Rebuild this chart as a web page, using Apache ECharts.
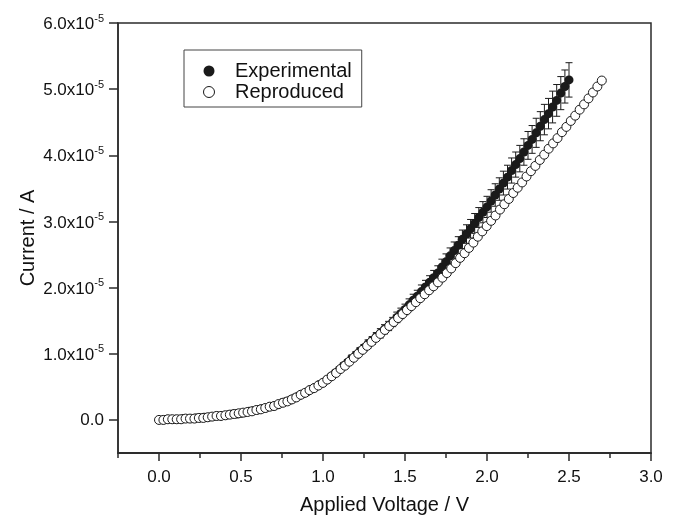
<!DOCTYPE html>
<html>
<head>
<meta charset="utf-8">
<script src="https://cdn.jsdelivr.net/npm/echarts@6/dist/echarts.min.js"></script>
<style>html,body{margin:0;padding:0;background:#fff}#c{width:675px;height:516px}</style>
</head>
<body>
<div id="c"></div>
<script>
// Values of current are in units of 1e-5 A
const xTicks = [0, 0.5, 1.0, 1.5, 2.0, 2.5, 3.0];
const yTicks = [0, 1, 2, 3, 4, 5, 6];

const vExp = [0.025,0.05,0.075,0.1,0.125,0.15,0.175,0.2,0.225,0.25,0.275,0.3,0.325,0.35,0.375,0.4,0.425,0.45,0.475,0.5,
0.525,0.55,0.575,0.6,0.625,0.65,0.675,0.7,0.725,0.75,0.775,0.8,0.825,0.85,0.875,0.9,0.925,0.95,0.975,1.0,
1.025,1.05,1.075,1.1,1.125,1.15,1.175,1.2,1.225,1.25,1.275,1.3,1.325,1.35,1.375,1.4,1.425,1.45,1.475,1.5,
1.525,1.55,1.575,1.6,1.625,1.65,1.675,1.7,1.725,1.75,1.775,1.8,1.825,1.85,1.875,1.9,1.925,1.95,1.975,2.0,
2.025,2.05,2.075,2.1,2.125,2.15,2.175,2.2,2.225,2.25,2.275,2.3,2.325,2.35,2.375,2.4,2.425,2.45,2.475,2.5];
const iExp = [0.00,0.01,0.01,0.01,0.01,0.02,0.02,0.02,0.03,0.03,0.04,0.04,0.05,0.06,0.06,0.07,0.08,0.09,0.09,0.10,
0.11,0.13,0.14,0.15,0.17,0.18,0.20,0.21,0.23,0.26,0.28,0.30,0.33,0.36,0.39,0.42,0.46,0.49,0.53,0.56,
0.61,0.66,0.71,0.76,0.82,0.87,0.93,0.98,1.04,1.09,1.15,1.20,1.26,1.31,1.37,1.42,1.48,1.55,1.61,1.67,
1.74,1.81,1.87,1.94,2.01,2.08,2.15,2.22,2.31,2.39,2.48,2.56,2.64,2.73,2.81,2.89,2.97,3.06,3.14,3.22,
3.31,3.40,3.49,3.58,3.67,3.77,3.86,3.95,4.05,4.15,4.24,4.34,4.44,4.54,4.63,4.73,4.83,4.94,5.04,5.14];
const errExp = [0,0,0,0,0,0,0,0,0,0,0,0,0,0,0,0,0,0,0,0.01,
0.01,0.01,0.01,0.01,0.01,0.01,0.01,0.01,0.01,0.01,0.01,0.02,0.02,0.02,0.02,0.02,0.02,0.02,0.03,0.03,
0.03,0.03,0.04,0.04,0.04,0.04,0.05,0.05,0.05,0.05,0.06,0.06,0.06,0.07,0.07,0.07,0.07,0.08,0.08,0.08,
0.09,0.09,0.09,0.10,0.10,0.10,0.11,0.11,0.12,0.12,0.12,0.13,0.13,0.14,0.14,0.14,0.15,0.15,0.16,0.16,
0.17,0.17,0.17,0.18,0.18,0.19,0.19,0.20,0.20,0.21,0.21,0.22,0.22,0.23,0.23,0.24,0.24,0.25,0.25,0.26];

const vRep = [0,0.027,0.054,0.081,0.108,0.135,0.162,0.189,0.216,0.243,0.27,0.297,0.324,0.351,0.378,0.405,0.432,0.459,0.486,0.513,
0.54,0.567,0.594,0.621,0.648,0.675,0.702,0.729,0.756,0.783,0.81,0.837,0.864,0.891,0.918,0.945,0.972,0.999,1.026,1.053,
1.08,1.107,1.134,1.161,1.188,1.215,1.242,1.269,1.296,1.323,1.35,1.377,1.404,1.431,1.458,1.485,1.512,1.539,1.566,1.593,
1.62,1.647,1.674,1.701,1.728,1.755,1.782,1.809,1.836,1.863,1.89,1.917,1.944,1.971,1.998,2.025,2.052,2.079,2.106,2.133,
2.16,2.187,2.214,2.241,2.268,2.295,2.322,2.349,2.376,2.403,2.43,2.457,2.484,2.511,2.538,2.565,2.592,2.619,2.646,2.673,2.7];
const iRep = [0.00,0.00,0.01,0.01,0.01,0.01,0.02,0.02,0.02,0.03,0.03,0.04,0.05,0.06,0.06,0.07,0.08,0.09,0.10,0.11,
0.12,0.13,0.15,0.16,0.18,0.20,0.21,0.24,0.26,0.28,0.31,0.34,0.38,0.41,0.45,0.48,0.52,0.56,0.61,0.66,
0.71,0.77,0.82,0.88,0.94,1.00,1.06,1.12,1.18,1.24,1.30,1.36,1.42,1.48,1.54,1.60,1.66,1.72,1.78,1.84,
1.90,1.96,2.02,2.08,2.15,2.22,2.29,2.37,2.45,2.52,2.60,2.68,2.77,2.85,2.93,3.01,3.09,3.18,3.26,3.34,
3.43,3.51,3.59,3.68,3.76,3.84,3.93,4.01,4.10,4.18,4.26,4.35,4.43,4.52,4.60,4.69,4.77,4.86,4.95,5.04,5.13];

const FONT = "'Liberation Sans', Arial, sans-serif";
const AX = '#2b2b2b';

const expData = vExp.map((v, k) => [v, iExp[k]]);
const repData = vRep.map((v, k) => [v, iRep[k]]);
const errData = vExp.map((v, k) => [v, iExp[k] - errExp[k], iExp[k] + errExp[k]]);
const isHalf = v => Math.abs(v * 2 - Math.round(v * 2)) < 1e-6;

const chart = echarts.init(document.getElementById('c'), null, {renderer: 'canvas'});
chart.setOption({
  animation: false,
  backgroundColor: '#fff',
  grid: {left: 118, right: 24, top: 23, bottom: 63, outerBoundsMode: 'none', containLabel: false,
    show: true, borderColor: AX, borderWidth: 1.5, backgroundColor: 'transparent'},
  legend: {
    left: 184, top: 50, orient: 'vertical',
    data: [
      {name: 'Experimental', icon: 'circle', itemStyle: {color: '#1a1a1a', borderColor: '#1a1a1a', borderWidth: 0}},
      {name: 'Reproduced', icon: 'circle', itemStyle: {color: '#fff', borderColor: '#1a1a1a', borderWidth: 1}}
    ],
    itemWidth: 42, itemHeight: 11, itemGap: 1,
    padding: [11, 10, 5, 19],
    borderColor: '#444', borderWidth: 1,
    textStyle: {fontFamily: FONT, fontSize: 20, color: '#111', lineHeight: 20}
  },
  xAxis: [{
    type: 'value', min: -0.25, max: 3.0, interval: 0.25, position: 'bottom',
    name: 'Applied Voltage / V', nameLocation: 'middle', nameGap: 42, nameMoveOverlap: false,
    nameTextStyle: {fontFamily: FONT, fontSize: 20, color: '#111'},
    axisLine: {show: true, onZero: false, lineStyle: {color: AX, width: 1.5}},
    axisTick: {show: true, length: 5, lineStyle: {color: AX, width: 1.5}},
    axisLabel: {margin: 16, fontFamily: FONT, fontSize: 17, color: '#111',
      formatter: v => (isHalf(v) && v >= 0) ? v.toFixed(1) : ''},
    splitLine: {show: false}
  }, {
    type: 'value', min: -0.25, max: 3.0, position: 'bottom', offset: 0,
    axisLine: {show: true, onZero: false, lineStyle: {color: AX, width: 1.5}},
    axisTick: {show: true, customValues: xTicks, length: 8, lineStyle: {color: AX, width: 1.5}},
    axisLabel: {show: true, customValues: xTicks, formatter: () => ''},
    splitLine: {show: false}
  }],
  yAxis: {
    type: 'value', min: -0.5, max: 6.0,
    name: 'Current / A', nameLocation: 'middle', nameGap: 80, nameMoveOverlap: false,
    nameTextStyle: {fontFamily: FONT, fontSize: 20, color: '#111'},
    axisLine: {show: true, onZero: false, lineStyle: {color: AX, width: 1.5}},
    axisTick: {show: true, customValues: yTicks, length: 9, lineStyle: {color: AX, width: 1.5}},
    axisLabel: {
      customValues: yTicks, margin: 14,
      formatter: v => v === 0 ? '{z|0.0}' : '{m|' + v.toFixed(1) + 'x10}{s|-5}',
      rich: {
        z: {fontFamily: FONT, fontSize: 17, color: '#111'},
        m: {fontFamily: FONT, fontSize: 17, color: '#111', lineHeight: 20, verticalAlign: 'bottom'},
        s: {fontFamily: FONT, fontSize: 11, color: '#111', lineHeight: 11, verticalAlign: 'top'}
      }
    },
    splitLine: {show: false}
  },
  series: [
    {
      type: 'custom', name: 'err', xAxisIndex: 0, z: 2,
      data: errData,
      encode: {x: 0, y: [1, 2]},
      renderItem: function (params, api) {
        const x = api.value(0);
        const lo = api.coord([x, api.value(1)]);
        const hi = api.coord([x, api.value(2)]);
        const hw = 3.5;
        const st = {stroke: '#1a1a1a', lineWidth: 1};
        return {type: 'group', children: [
          {type: 'line', shape: {x1: hi[0], y1: hi[1], x2: lo[0], y2: lo[1]}, style: st},
          {type: 'line', shape: {x1: hi[0] - hw, y1: hi[1], x2: hi[0] + hw, y2: hi[1]}, style: st},
          {type: 'line', shape: {x1: lo[0] - hw, y1: lo[1], x2: lo[0] + hw, y2: lo[1]}, style: st}
        ]};
      }
    },
    {
      type: 'scatter', name: 'Experimental', xAxisIndex: 0, z: 3,
      data: expData, symbol: 'circle', symbolSize: 9,
      itemStyle: {color: '#1a1a1a', opacity: 1}
    },
    {
      type: 'scatter', name: 'Reproduced', xAxisIndex: 0, z: 4,
      data: repData, symbol: 'circle', symbolSize: 9,
      itemStyle: {color: '#fff', borderColor: '#1a1a1a', borderWidth: 1, opacity: 1}
    }
  ]
});
</script>
</body>
</html>
